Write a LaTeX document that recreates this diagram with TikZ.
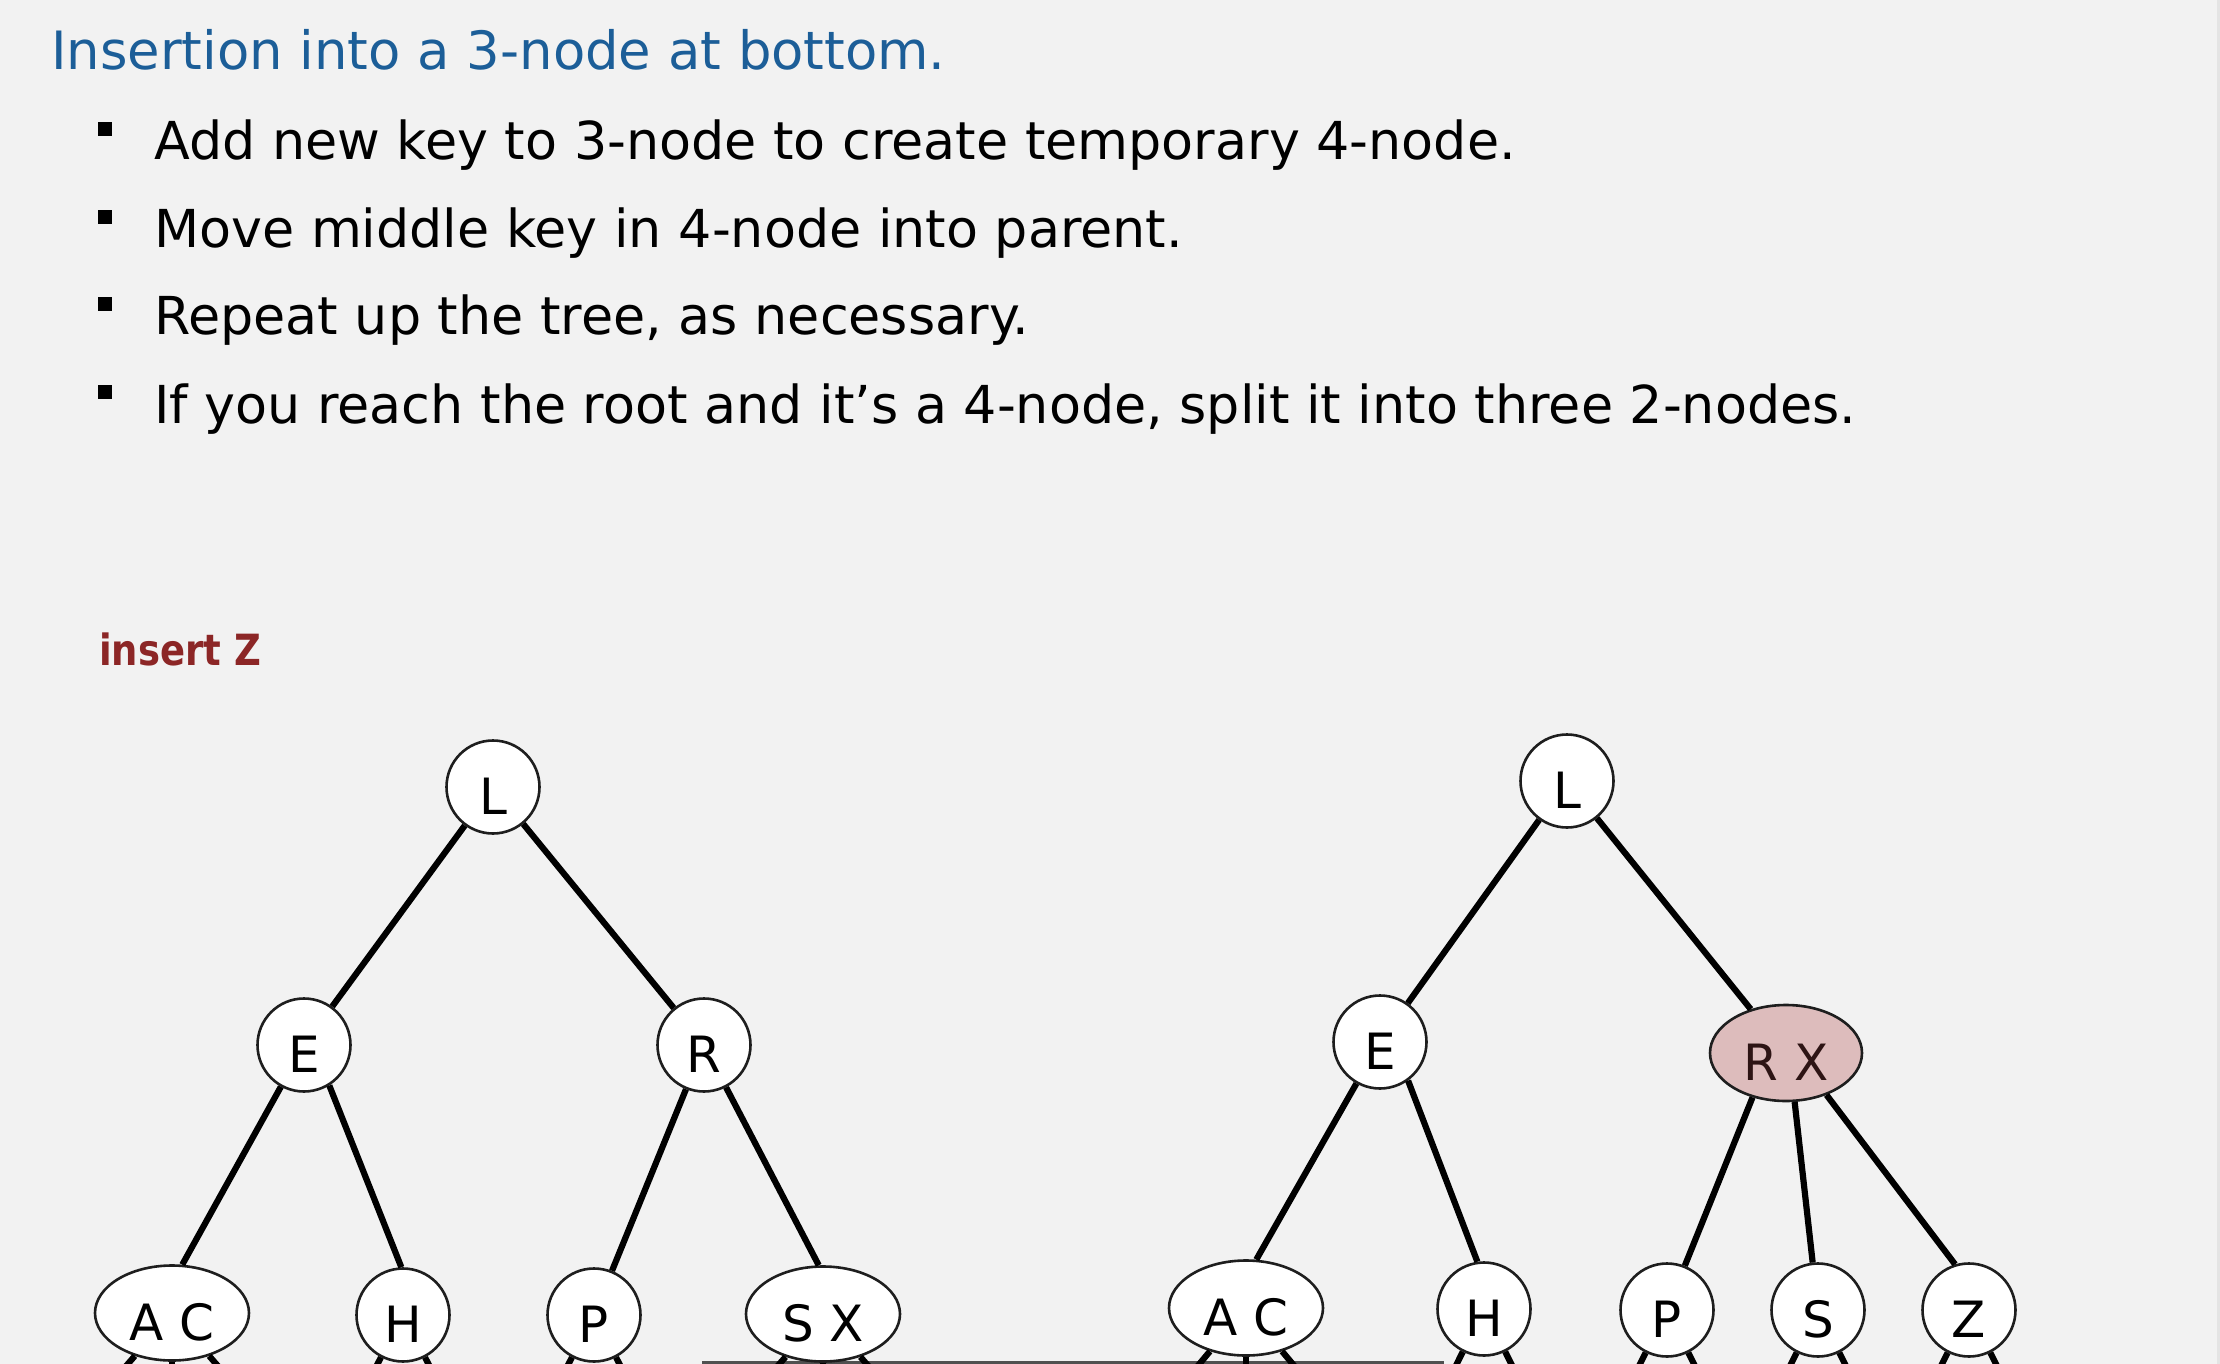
\documentclass[tikz,border=0pt]{standalone}
\usepackage{fontspec}
\setmainfont{DejaVu Sans}
\newfontfamily\labelfont[FakeStretch=0.86]{DejaVu Sans}
\usetikzlibrary{shapes.geometric}

\definecolor{pagebg}{RGB}{242,242,242}
\definecolor{edgestrip}{RGB}{228,228,228}
\definecolor{titleblue}{RGB}{28,94,152}
\definecolor{keyred}{RGB}{140,38,38}
\definecolor{splitfill}{RGB}{221,188,188}
\definecolor{splittext}{RGB}{45,20,20}
\definecolor{nodeline}{RGB}{30,30,30}
\definecolor{rulegray}{RGB}{80,80,80}

\begin{document}
\begin{tikzpicture}[x=1pt,y=-1pt,
  heading/.style={anchor=base west, inner sep=0pt, text=titleblue,
    font=\fontsize{52.8}{60}\selectfont},
  item/.style={anchor=base west, inner sep=0pt,
    font=\fontsize{52.3}{60}\selectfont},
  bulletsq/.style={rectangle, fill=black, inner sep=0pt, minimum size=14pt},
  tag/.style={anchor=base west, inner sep=0pt, text=keyred,
    font=\labelfont\bfseries\fontsize{43}{50}\selectfont},
  keynode/.style={ellipse, draw=nodeline, line width=2.6pt, fill=white,
    inner sep=0pt, text height=54pt, text depth=0pt,
    minimum width=93pt, minimum height=93pt,
    font=\fontsize{50}{50}\selectfont},
  wide/.style={minimum width=154pt, minimum height=95pt},
  split/.style={fill=splitfill, text=splittext},
  link/.style={line width=6.2pt, black},
]
% page and frame
\useasboundingbox (0,0) rectangle (2220,1364);
\fill[pagebg] (0,0) rectangle (2220,1364);
\fill[edgestrip] (2217,0) rectangle (2220,1364);
\clip (0,0) rectangle (2220,1364);

% heading and bullet list
\node[heading] (title) at (51,70) {Insertion into a 3-node at bottom.};
\node[bulletsq] (b1) at (105,129) {};
\node[bulletsq] (b2) at (105,217) {};
\node[bulletsq] (b3) at (105,304) {};
\node[bulletsq] (b4) at (105,392) {};
\node[item] (t1) at (154,160) {Add new key to 3-node to create temporary 4-node.};
\node[item] (t2) at (154,248) {Move middle key in 4-node into parent.};
\node[item] (t3) at (154,335) {Repeat up the tree, as necessary.};
\node[item] (t4) at (154,423) {If you reach the root and it’s a 4-node, split it into three 2-nodes.};

\node[tag] (ins) at (99,665) {insert Z};

% thin rule along the bottom
\draw[rulegray, line width=3pt] (702,1362) -- (1444,1362);

% tree before the split
\node[keynode] (L1) at (493,787) {L};
\node[keynode] (E1) at (304,1045) {E};
\node[keynode] (R1) at (704,1045) {R};
\node[keynode, wide] (AC1) at (172,1313) {A C};
\node[keynode] (H1) at (403,1315) {H};
\node[keynode] (P1) at (594,1315) {P};
\node[keynode, wide] (SX1) at (823,1314) {S X};

% tree after the split
\node[keynode] (L2) at (1567,781) {L};
\node[keynode] (E2) at (1380,1042) {E};
\node[keynode, wide, split, minimum width=152pt, minimum height=96pt] (RX2) at (1786,1053) {R X};
\node[keynode, wide] (AC2) at (1246,1308) {A C};
\node[keynode] (H2) at (1484,1309) {H};
\node[keynode] (P2) at (1667,1310) {P};
\node[keynode] (S2) at (1818,1310) {S};
\node[keynode] (Z2) at (1969,1310) {Z};

% null links leaving the bottom edge
\foreach \n/\x in {AC1/172, SX1/823, AC2/1246} {
  \coordinate (\n-l) at (\x-110,1440);
  \coordinate (\n-m) at (\x,1440);
  \coordinate (\n-r) at (\x+110,1440);
}
\foreach \n/\x in {H1/403, P1/594, H2/1484, P2/1667, S2/1818, Z2/1969} {
  \coordinate (\n-l) at (\x-65,1440);
  \coordinate (\n-r) at (\x+65,1440);
}

% links
\begin{scope}[link]
  \draw (L1) -- (E1);
  \draw (L1) -- (R1);
  \draw (E1) -- (AC1.78);
  \draw (E1.302) -- (H1.92);
  \draw (R1) -- (P1);
  \draw (R1) -- (SX1.95);
  \draw (L2) -- (E2);
  \draw (L2) -- (RX2);
  \draw (E2) -- (AC2.78);
  \draw (E2.306) -- (H2.98);
  \draw (RX2.233) -- (P2);
  \draw (RX2.280) -- (S2);
  \draw (RX2.314) -- (Z2.107);
  \foreach \n in {AC1, SX1, AC2} {
    \draw (\n) -- (\n-l);
    \draw (\n) -- (\n-m);
    \draw (\n) -- (\n-r);
  }
  \foreach \n in {H1, P1, H2, P2, S2, Z2} {
    \draw (\n) -- (\n-l);
    \draw (\n) -- (\n-r);
  }
\end{scope}
\end{tikzpicture}
\end{document}
